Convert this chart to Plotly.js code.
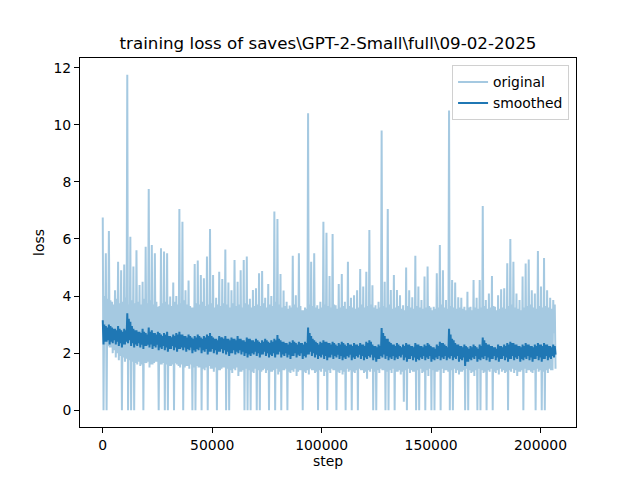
<!DOCTYPE html>
<html><head><meta charset="utf-8">
<script src="https://cdn.plot.ly/plotly-3.0.1.min.js"></script>
<style>html,body{margin:0;padding:0;background:#fff}#chart{width:640px;height:480px}</style>
</head><body><div id="chart"></div>
<script>
// logging interval between recorded training steps
const logInterval = 350;

// original loss, read off the picture: each group of four logged points is
// (column top, column bottom, upper dense edge, lower dense edge)
const origPeaks = [
6.75, 5.5, 6.28, 3.8, 4.2, 5.2, 4.9, 5.1, 11.75, 6.08,
5.03, 5.6, 4.39, 4.5, 5.73, 7.75, 5.79, 5.5, 3.62, 5.67,
5.56, 5.5, 3.98, 4.47, 4.0, 7.05, 6.6, 4.2, 4.54, 3.6,
5.12, 5.24, 4.74, 4.62, 5.38, 6.35, 4.74, 3.94, 4.85, 4.6,
5.63, 4.47, 4.2, 5.26, 4.5, 4.9, 5.26, 5.38, 3.9, 4.21,
4.27, 4.8, 4.88, 3.94, 4.42, 4.0, 6.96, 6.7, 4.77, 4.19,
3.8, 3.67, 5.41, 4.03, 5.5, 3.5, 3.6, 10.4, 5.2, 5.5,
3.68, 3.8, 6.6, 6.22, 4.7, 6.17, 3.68, 4.42, 4.77, 3.8,
5.2, 3.94, 4.03, 4.2, 4.95, 4.33, 4.85, 6.31, 4.38, 3.68,
3.8, 9.8, 4.5, 7.05, 4.21, 4.74, 4.21, 4.03, 3.68, 5.0,
4.2, 3.96, 5.41, 4.33, 3.86, 4.68, 5.03, 3.6, 3.62, 4.8,
5.79, 4.9, 3.86, 10.5, 4.56, 4.47, 3.96, 3.94, 3.62, 4.15,
3.62, 4.56, 3.94, 4.56, 7.15, 3.86, 4.09, 4.7, 3.62, 4.03,
4.24, 4.27, 5.15, 6.0, 5.2, 4.09, 3.86, 4.68, 5.14, 5.28,
4.2, 4.09, 5.58, 4.33, 5.33, 4.2, 3.94, 3.86
];
const origTroughs = [
0, 0, 2.2, 2.0, 1.85, 1.75, 0, 1.7, 0, 0,
0, 1.6, 1.55, 0, 1.65, 1.5, 1.6, 1.7, 0, 1.6,
0, 0, 1.55, 0, 1.6, 1.5, 0, 1.55, 1.45, 0,
0, 1.5, 0, 1.4, 0, 1.45, 1.35, 0, 1.4, 1.5,
0, 0, 1.3, 1.4, 1.2, 1.35, 0, 0, 0, 1.3,
0, 0, 1.4, 1.3, 0, 1.35, 0, 1.25, 0, 1.4,
0, 1.3, 1.35, 1.2, 1.4, 0, 1.3, 1.25, 1.4, 1.3,
0, 1.35, 1.2, 0, 1.3, 1.4, 0, 1.3, 1.25, 0,
1.35, 0, 1.3, 0, 1.4, 1.3, 1.1, 1.35, 0, 0,
1.3, 1.4, 0, 0, 1.3, 0, 1.35, 1.25, 0.3, 0,
1.3, 1.35, 0, 0, 1.3, 0, 1.2, 0, 0, 1.35,
0, 1.3, 1.4, 0, 0, 1.3, 1.25, 1.35, 0, 0,
1.3, 1.2, 0, 0, 1.3, 0, 1.35, 0, 1.3, 1.25,
1.35, 1.3, 0, 1.35, 1.3, 1.2, 1.35, 0, 1.3, 1.4,
1.3, 0, 1.35, 0, 0, 1.3, 1.4, 2.7
];
const origUpperDense = [
4.0, 3.9, 3.85, 3.7, 3.9, 3.75, 3.8, 3.95, 3.7, 3.85,
3.75, 3.8, 3.7, 3.9, 3.75, 3.85, 3.7, 3.8, 3.65, 3.75,
3.8, 3.7, 3.65, 3.8, 3.7, 3.75, 3.85, 3.7, 3.65, 3.6,
3.75, 3.7, 3.8, 3.65, 3.7, 3.75, 3.6, 3.7, 3.65, 3.75,
3.7, 3.6, 3.75, 3.65, 3.7, 3.6, 3.75, 3.7, 3.6, 3.65,
3.7, 3.65, 3.75, 3.6, 3.7, 3.65, 3.8, 3.7, 3.6, 3.65,
3.55, 3.6, 3.7, 3.6, 3.65, 3.5, 3.55, 3.7, 3.65, 3.6,
3.55, 3.6, 3.7, 3.65, 3.6, 3.7, 3.55, 3.6, 3.65, 3.55,
3.65, 3.6, 3.55, 3.6, 3.7, 3.6, 3.65, 3.7, 3.6, 3.55,
3.6, 3.65, 3.6, 3.7, 3.55, 3.6, 3.65, 3.55, 3.5, 3.65,
3.6, 3.55, 3.65, 3.6, 3.55, 3.6, 3.65, 3.5, 3.55, 3.6,
3.7, 3.6, 3.55, 3.65, 3.6, 3.55, 3.6, 3.55, 3.5, 3.6,
3.5, 3.6, 3.55, 3.6, 3.65, 3.55, 3.6, 3.65, 3.5, 3.55,
3.6, 3.55, 3.65, 3.7, 3.6, 3.55, 3.5, 3.6, 3.65, 3.7,
3.6, 3.55, 3.65, 3.6, 3.65, 3.6, 3.55, 3.7
];
const origLowerDense = [
2.3, 2.25, 2.2, 2.1, 2.0, 1.9, 1.85, 1.8, 1.75, 1.7,
1.65, 1.7, 1.6, 1.65, 1.7, 1.6, 1.65, 1.7, 1.6, 1.65,
1.6, 1.55, 1.6, 1.65, 1.55, 1.6, 1.5, 1.55, 1.6, 1.5,
1.55, 1.5, 1.45, 1.5, 1.55, 1.45, 1.5, 1.4, 1.45, 1.5,
1.45, 1.4, 1.45, 1.5, 1.35, 1.4, 1.45, 1.4, 1.35, 1.45,
1.4, 1.35, 1.45, 1.4, 1.35, 1.4, 1.45, 1.35, 1.4, 1.45,
1.35, 1.4, 1.45, 1.35, 1.4, 1.35, 1.4, 1.45, 1.4, 1.35,
1.4, 1.45, 1.35, 1.4, 1.45, 1.4, 1.35, 1.4, 1.35, 1.45,
1.4, 1.35, 1.4, 1.45, 1.4, 1.35, 1.4, 1.45, 1.35, 1.4,
1.45, 1.4, 1.35, 1.4, 1.45, 1.35, 1.4, 1.35, 1.4, 1.45,
1.4, 1.35, 1.4, 1.45, 1.35, 1.4, 1.45, 1.4, 1.35, 1.4,
1.45, 1.4, 1.35, 1.4, 1.45, 1.4, 1.35, 1.4, 1.45, 1.4,
1.35, 1.4, 1.45, 1.4, 1.35, 1.4, 1.45, 1.35, 1.4, 1.45,
1.4, 1.35, 1.4, 1.45, 1.4, 1.35, 1.4, 1.45, 1.4, 1.35,
1.4, 1.45, 1.4, 1.35, 1.4, 1.45, 1.4, 1.45
];

// smoothed loss, same grouping of four
const smoothPeaks = [
3.15, 2.95, 3.0, 2.9, 2.85, 2.95, 2.8, 2.85, 3.4, 3.1,
2.85, 2.8, 2.75, 2.85, 2.7, 2.9, 2.8, 2.7, 2.75, 2.65,
2.7, 2.75, 2.6, 2.65, 2.7, 2.75, 2.65, 2.6, 2.65, 2.55,
2.6, 2.65, 2.55, 2.6, 2.65, 2.7, 2.55, 2.5, 2.6, 2.55,
2.6, 2.5, 2.55, 2.5, 2.6, 2.5, 2.45, 2.55, 2.5, 2.45,
2.5, 2.4, 2.45, 2.5, 2.4, 2.45, 2.5, 2.63, 2.45, 2.4,
2.35, 2.4, 2.45, 2.35, 2.4, 2.35, 2.4, 2.9, 2.6, 2.45,
2.35, 2.4, 2.45, 2.4, 2.35, 2.4, 2.3, 2.35, 2.4, 2.3,
2.35, 2.3, 2.35, 2.3, 2.35, 2.3, 2.4, 2.45, 2.3, 2.25,
2.3, 2.88, 2.6, 2.5, 2.35, 2.3, 2.35, 2.25, 2.3, 2.35,
2.3, 2.25, 2.35, 2.3, 2.25, 2.3, 2.35, 2.25, 2.2, 2.3,
2.4, 2.35, 2.25, 2.85, 2.5, 2.35, 2.3, 2.25, 2.3, 2.2,
2.25, 2.3, 2.2, 2.3, 2.55, 2.35, 2.3, 2.25, 2.2, 2.3,
2.25, 2.3, 2.35, 2.4, 2.35, 2.3, 2.25, 2.3, 2.35, 2.3,
2.25, 2.3, 2.35, 2.3, 2.35, 2.3, 2.25, 2.3
];
const smoothTroughs = [
2.3, 2.4, 2.3, 2.35, 2.3, 2.25, 2.2, 2.3, 2.35, 2.25,
2.2, 2.25, 2.2, 2.15, 2.25, 2.2, 2.15, 2.2, 2.1, 2.15,
2.1, 2.05, 2.15, 2.1, 2.05, 2.15, 2.1, 2.05, 2.1, 2.0,
2.05, 2.1, 2.0, 2.05, 1.95, 2.05, 2.0, 1.95, 2.05, 2.0,
1.95, 1.9, 2.0, 1.95, 2.0, 1.95, 1.9, 1.85, 1.9, 1.95,
1.9, 1.85, 1.95, 1.9, 1.85, 1.9, 1.85, 1.95, 1.85, 1.9,
1.85, 1.8, 1.9, 1.85, 1.9, 1.8, 1.85, 1.95, 1.9, 1.85,
1.8, 1.85, 1.8, 1.75, 1.85, 1.8, 1.85, 1.8, 1.75, 1.8,
1.85, 1.75, 1.8, 1.85, 1.8, 1.75, 1.8, 1.85, 1.75, 1.7,
1.8, 1.85, 1.8, 1.75, 1.8, 1.75, 1.8, 1.85, 1.75, 1.7,
1.8, 1.75, 1.7, 1.75, 1.8, 1.75, 1.8, 1.7, 1.75, 1.8,
1.75, 1.8, 1.75, 1.8, 1.75, 1.8, 1.7, 1.75, 1.55, 1.7,
1.75, 1.8, 1.7, 1.75, 1.8, 1.75, 1.7, 1.8, 1.75, 1.7,
1.8, 1.75, 1.7, 1.8, 1.75, 1.8, 1.7, 1.75, 1.8, 1.75,
1.7, 1.8, 1.75, 1.7, 1.8, 1.75, 1.8, 1.85
];
const smoothUpperDense = [
3.0, 2.9, 2.95, 2.85, 2.8, 2.85, 2.75, 2.8, 3.2, 2.95,
2.8, 2.75, 2.7, 2.75, 2.65, 2.75, 2.7, 2.65, 2.7, 2.6,
2.65, 2.6, 2.55, 2.6, 2.65, 2.65, 2.6, 2.55, 2.6, 2.5,
2.55, 2.6, 2.5, 2.55, 2.6, 2.6, 2.5, 2.45, 2.55, 2.5,
2.5, 2.45, 2.5, 2.45, 2.5, 2.45, 2.4, 2.5, 2.45, 2.4,
2.45, 2.35, 2.4, 2.45, 2.35, 2.4, 2.45, 2.5, 2.4, 2.35,
2.3, 2.35, 2.4, 2.3, 2.35, 2.3, 2.35, 2.7, 2.5, 2.4,
2.3, 2.35, 2.4, 2.35, 2.3, 2.35, 2.25, 2.3, 2.35, 2.25,
2.3, 2.25, 2.3, 2.25, 2.3, 2.25, 2.35, 2.4, 2.25, 2.2,
2.25, 2.7, 2.5, 2.4, 2.3, 2.25, 2.3, 2.2, 2.25, 2.3,
2.25, 2.2, 2.3, 2.25, 2.2, 2.25, 2.3, 2.2, 2.15, 2.25,
2.35, 2.3, 2.2, 2.65, 2.45, 2.3, 2.25, 2.2, 2.25, 2.15,
2.2, 2.25, 2.15, 2.25, 2.45, 2.3, 2.25, 2.2, 2.15, 2.25,
2.2, 2.25, 2.3, 2.35, 2.3, 2.25, 2.2, 2.25, 2.3, 2.25,
2.2, 2.25, 2.3, 2.25, 2.3, 2.25, 2.2, 2.25
];
const smoothLowerDense = [
2.4, 2.45, 2.4, 2.45, 2.4, 2.35, 2.3, 2.4, 2.45, 2.35,
2.3, 2.35, 2.3, 2.25, 2.3, 2.3, 2.25, 2.3, 2.2, 2.25,
2.2, 2.15, 2.25, 2.2, 2.15, 2.2, 2.2, 2.15, 2.2, 2.1,
2.15, 2.2, 2.1, 2.15, 2.05, 2.15, 2.1, 2.05, 2.15, 2.1,
2.05, 2.0, 2.1, 2.05, 2.1, 2.05, 2.0, 1.95, 2.0, 2.05,
2.0, 1.95, 2.05, 2.0, 1.95, 2.0, 1.95, 2.05, 1.95, 2.0,
1.95, 1.9, 2.0, 1.95, 2.0, 1.9, 1.95, 2.05, 2.0, 1.95,
1.9, 1.95, 1.9, 1.85, 1.95, 1.9, 1.95, 1.9, 1.85, 1.9,
1.95, 1.85, 1.9, 1.95, 1.9, 1.85, 1.9, 1.95, 1.85, 1.8,
1.9, 1.95, 1.9, 1.85, 1.9, 1.85, 1.9, 1.95, 1.85, 1.8,
1.9, 1.85, 1.8, 1.85, 1.9, 1.85, 1.9, 1.8, 1.85, 1.9,
1.85, 1.9, 1.85, 1.9, 1.85, 1.9, 1.8, 1.85, 1.7, 1.8,
1.85, 1.9, 1.8, 1.85, 1.9, 1.85, 1.8, 1.9, 1.85, 1.8,
1.9, 1.85, 1.8, 1.9, 1.85, 1.9, 1.8, 1.85, 1.9, 1.85,
1.8, 1.9, 1.85, 1.8, 1.9, 1.85, 1.9, 1.95
];

const xTickVals = [0, 50000, 100000, 150000, 200000];
const yTickVals = [0, 2, 4, 6, 8, 10, 12];

function interleave(a, b, c, d) {
  const out = [];
  for (let i = 0; i < a.length; i++) { out.push(a[i], b[i], c[i], d[i]); }
  return out;
}
const original = interleave(origPeaks, origTroughs, origUpperDense, origLowerDense);
const smoothed = interleave(smoothPeaks, smoothTroughs, smoothUpperDense, smoothLowerDense);
const steps = original.map((_, i) => i * logInterval);

const FONT = 'DejaVu Sans, sans-serif';
const traces = [
  { x: steps, y: original, type: 'scatter', mode: 'lines', name: 'original',
    line: { color: '#a5c9e1', width: 2 } },
  { x: steps, y: smoothed, type: 'scatter', mode: 'lines', name: 'smoothed',
    line: { color: '#1f77b4', width: 2 } }
];
const axisCommon = {
  showline: true, mirror: true, linecolor: '#000', linewidth: 1,
  ticks: 'outside', ticklen: 5, tickwidth: 1, tickcolor: '#000',
  showgrid: false, zeroline: false,
  tickfont: { family: FONT, size: 13.9, color: '#000' }
};
const layout = {
  width: 640, height: 480,
  margin: { l: 80, r: 64, t: 57.6, b: 52.8 },
  paper_bgcolor: '#fff', plot_bgcolor: '#fff',
  font: { family: FONT, color: '#000' },
  title: { text: 'training loss of saves\\GPT-2-Small\\full\\09-02-2025',
    font: { family: FONT, size: 16.7, color: '#000' },
    x: 0.5, xref: 'paper', y: 1 - 43 / 480, yref: 'container', yanchor: 'middle' },
  xaxis: Object.assign({}, axisCommon, {
    range: [-10400, 216200],
    tickvals: xTickVals, ticktext: xTickVals.map(String),
    title: { text: 'step', font: { family: FONT, size: 13.9, color: '#000' }, standoff: 4 }
  }),
  yaxis: Object.assign({}, axisCommon, {
    range: [-0.5875, 12.3375],
    tickvals: yTickVals, ticktext: yTickVals.map(String),
    title: { text: 'loss', font: { family: FONT, size: 13.9, color: '#000' }, standoff: 5 }
  }),
  showlegend: true,
  legend: { x: 0.986, xanchor: 'right', y: 0.98, yanchor: 'top',
    bgcolor: 'rgba(255,255,255,0.8)', bordercolor: '#d0d0d0', borderwidth: 1,
    font: { family: FONT, size: 13.9, color: '#000' } }
};
Plotly.newPlot('chart', traces, layout, { staticPlot: true, displayModeBar: false });
</script>
</body></html>
